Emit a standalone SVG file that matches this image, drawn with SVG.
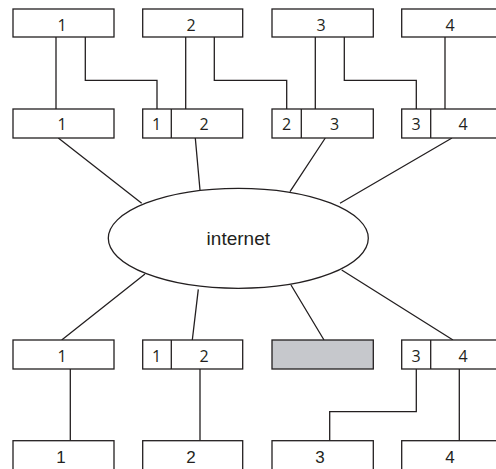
<svg xmlns="http://www.w3.org/2000/svg" width="496" height="469" viewBox="0 0 496 469">
<style>
.b{fill:#fff;stroke:#231f20;stroke-width:1.3}
.g{fill:#c6c8cc;stroke:#231f20;stroke-width:1.3}
.c{fill:none;stroke:#231f20;stroke-width:1.3}
.t{font-family:"Open Sans","Liberation Sans",sans-serif;font-size:16px;fill:#231f20;text-anchor:middle}
.a{font-family:"Liberation Sans",Arial,sans-serif;font-size:17px;fill:#231f20;text-anchor:middle}
</style>
<rect width="496" height="469" fill="#fff"/>
<g id="connectors">
<path class="c" d="M56 37V109M85.3 37V80.3H157V109"/>
<path class="c" d="M185.7 37V109M214.3 37V80.3H286.7V109"/>
<path class="c" d="M315.3 37V109M344.3 37V80.3H416.3V109"/>
<path class="c" d="M445 37V109"/>
<path class="c" d="M58.3 138L141.7 203.3M195.3 138L200 190M325.3 138L290 191.7M452 138L340 203.3"/>
<path class="c" d="M145 274L61.7 340M198.3 289.3L192.3 340M291 285L324 340M341.7 270L453 340"/>
<path class="c" d="M70.3 369V440.7M200 369V440.7M416.3 369V411.7H329.7V440.7M459.3 369V440.7"/>
</g>
<g id="top1"><rect class="b" x="13" y="9" width="101" height="28"/><text class="t" x="62" y="31">1</text></g>
<g id="top2"><rect class="b" x="142.7" y="9" width="100" height="28"/><text class="t" x="191" y="31">2</text></g>
<g id="top3"><rect class="b" x="272" y="9" width="101.3" height="28"/><text class="t" x="321" y="31">3</text></g>
<g id="top4"><rect class="b" x="401.7" y="9" width="101" height="28"/><text class="t" x="450" y="31">4</text></g>
<g id="mid1"><rect class="b" x="13" y="109" width="101" height="29"/><text class="t" x="62" y="130">1</text></g>
<g id="mid2"><rect class="b" x="142.7" y="109" width="100" height="29"/><line class="c" x1="171.3" y1="109" x2="171.3" y2="138"/><text class="t" x="156.7" y="130">1</text><text class="t" x="204" y="130">2</text></g>
<g id="mid3"><rect class="b" x="272" y="109" width="101.3" height="29"/><line class="c" x1="301.3" y1="109" x2="301.3" y2="138"/><text class="t" x="286.5" y="130">2</text><text class="t" x="334.5" y="130">3</text></g>
<g id="mid4"><rect class="b" x="401.7" y="109" width="101" height="29"/><line class="c" x1="430.7" y1="109" x2="430.7" y2="138"/><text class="t" x="416" y="130">3</text><text class="t" x="463" y="130">4</text></g>
<g id="internet"><ellipse class="b" cx="238.3" cy="238.3" rx="130" ry="50"/><text class="a" x="238.3" y="244.5" style="font-size:19px">internet</text></g>
<g id="low1"><rect class="b" x="13" y="340" width="101" height="29"/><text class="t" x="62" y="362">1</text></g>
<g id="low2"><rect class="b" x="142.7" y="340" width="100" height="29"/><line class="c" x1="171.3" y1="340" x2="171.3" y2="369"/><text class="t" x="156.7" y="362">1</text><text class="t" x="204" y="362">2</text></g>
<g id="low3"><rect class="g" x="272" y="340" width="101.3" height="29"/></g>
<g id="low4"><rect class="b" x="401.7" y="340" width="101" height="29"/><line class="c" x1="430.7" y1="340" x2="430.7" y2="369"/><text class="t" x="416" y="362">3</text><text class="t" x="463" y="362">4</text></g>
<g id="bot1"><rect class="b" x="13" y="440.7" width="101" height="40"/><text class="a" x="61" y="463">1</text></g>
<g id="bot2"><rect class="b" x="142.7" y="440.7" width="100" height="40"/><text class="a" x="191" y="463">2</text></g>
<g id="bot3"><rect class="b" x="272" y="440.7" width="101.3" height="40"/><text class="a" x="320" y="463">3</text></g>
<g id="bot4"><rect class="b" x="401.7" y="440.7" width="101" height="40"/><text class="a" x="450" y="463">4</text></g>
</svg>
